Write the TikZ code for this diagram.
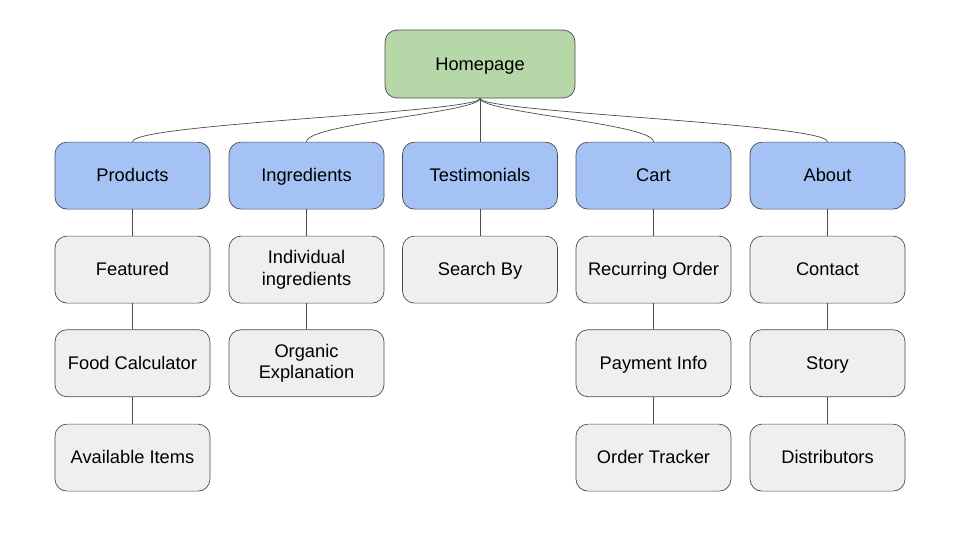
\documentclass[tikz,border=0pt]{standalone}
\usepackage{fontspec}
\setmainfont{Liberation Sans}
\begin{document}
\begin{tikzpicture}[
    box/.style={draw=black!70,rounded corners=0.3cm,minimum width=3.875cm,minimum height=1.675cm,align=center,font=\fontsize{13}{15.5}\selectfont,line width=0.5pt},
    oneline/.style={text height=2.15ex,text depth=0.5ex},
    top/.style={box,oneline,fill={rgb,255:red,182;green,215;blue,168},minimum width=4.75cm,minimum height=1.7cm},
    main/.style={box,oneline,fill={rgb,255:red,164;green,194;blue,244}},
    sub/.style={box,oneline,fill={rgb,255:red,239;green,239;blue,239}},
    subtwo/.style={box,fill={rgb,255:red,239;green,239;blue,239}},
    link/.style={draw=black!70,line width=0.5pt}
  ]
                        \useasboundingbox (0,0) rectangle (24,-13.5);
                        \node[top] (home) at (12,-1.6) {Homepage};
                        \node[main] (prod) at (3.3125,-4.39) {Products};
                        \node[main] (ingr) at (7.6625,-4.39) {Ingredients};
                        \node[main] (test) at (12,-4.39) {Testimonials};
                        \node[main] (cart) at (16.3375,-4.39) {Cart};
                        \node[main] (about) at (20.6875,-4.39) {About};
                        \node[sub] (feat) at (3.3125,-6.74) {Featured};
                        \node[sub] (calc) at (3.3125,-9.08) {Food Calculator};
                        \node[sub] (avail) at (3.3125,-11.44) {Available Items};
                        \node[subtwo] (indiv) at (7.6625,-6.74) {Individual\\ingredients};
                        \node[subtwo] (organic) at (7.6625,-9.08) {Organic\\Explanation};
                        \node[sub] (search) at (12,-6.74) {Search By};
                        \node[sub] (recur) at (16.3375,-6.74) {Recurring Order};
                        \node[sub] (pay) at (16.3375,-9.08) {Payment Info};
                        \node[sub] (track) at (16.3375,-11.44) {Order Tracker};
                        \node[sub] (contact) at (20.6875,-6.74) {Contact};
                        \node[sub] (story) at (20.6875,-9.08) {Story};
                        \node[sub] (dist) at (20.6875,-11.44) {Distributors};
                        % homepage to sections
                        \draw[link] (home.south) .. controls +(0,-0.35) and +(0,0.45) .. (prod.north);
                        \draw[link] (home.south) .. controls +(0,-0.35) and +(0,0.45) .. (ingr.north);
                        \draw[link] (home.south) -- (test.north);
                        \draw[link] (home.south) .. controls +(0,-0.35) and +(0,0.45) .. (cart.north);
                        \draw[link] (home.south) .. controls +(0,-0.35) and +(0,0.45) .. (about.north);
                        % sections to pages
                        \draw[link] (prod) -- (feat) -- (calc) -- (avail);
                        \draw[link] (ingr) -- (indiv) -- (organic);
                        \draw[link] (test) -- (search);
                        \draw[link] (cart) -- (recur) -- (pay) -- (track);
                        \draw[link] (about) -- (contact) -- (story) -- (dist);
                    \end{tikzpicture}
\end{document}
